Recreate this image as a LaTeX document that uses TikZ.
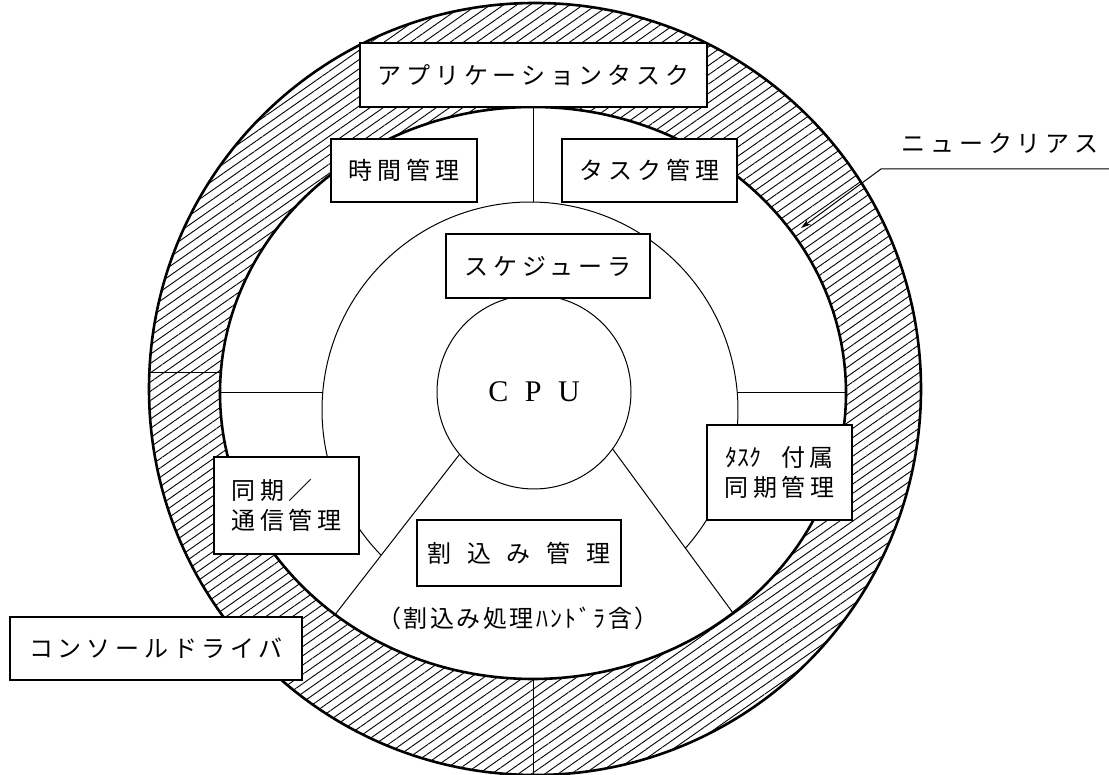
\documentclass[tikz,border=0pt]{standalone}
\usepackage{fontspec}
\setmainfont{Liberation Serif}
\newfontfamily\jp[LetterSpace=20]{Noto Sans CJK JP}
\newfontfamily\jpwide[LetterSpace=65]{Noto Sans CJK JP}
\newfontfamily\jpnarrow[LetterSpace=10]{Noto Sans CJK JP}
\newfontfamily\jpplain{Noto Sans CJK JP}
\usetikzlibrary{positioning,arrows.meta,patterns.meta}
\def\outerR{386}
\def\ringA{313}
\def\ringB{286}
\def\midR{208}
\def\borderW{1.3pt}
\tikzset
{
  Box/.style=
  {
    draw,
    line width=\borderW,
    fill=white,
    inner sep=0pt,
    align=center,
    font=\jp\fontsize{12pt}{15pt}\selectfont,
  },
  Hatch/.style={pattern={Lines[angle=35,distance=3.8pt,line width=0.45pt]}},
  Thin/.style={line width=0.5pt},
}

\begin{document}
\begin{tikzpicture}
[
  x=0.5pt, y=0.5pt, % one unit per pixel of the drawing
]
\useasboundingbox (0,0) rectangle (1109,775);
\coordinate (outer) at (535,386);
\coordinate (ring) at (533,382);
\coordinate (mid) at (530,365);

% nucleus ring
\fill [Hatch, even odd rule] (outer) circle [radius=\outerR] (ring) ellipse [x radius=\ringA, y radius=\ringB];
\draw [line width=1.3pt] (outer) circle [radius=\outerR];
\draw [line width=1.3pt] (ring) ellipse [x radius=\ringA, y radius=\ringB];

% middle circle, open in the bottom sector
\draw [Thin] (mid) ++(-41.7:\midR) arc [start angle=-41.7, end angle=224.2, radius=\midR];

\node (cpu)
  [
    circle, draw, Thin,
    minimum size=97pt,
    inner sep=0pt,
    font=\fontsize{15pt}{17pt}\selectfont,
  ]
  at (534,383) {C\hspace{0.55em}P\hspace{0.55em}U};

\coordinate (ringL) at (334,159);
\coordinate (ringR) at (733,162);
\coordinate (ringW) at (220,382);
\coordinate (midW) at (322.7,382);
\coordinate (midE) at (738,382);
\coordinate (ringE) at (846,382);
\coordinate (cutWa) at (149.3,402);
\coordinate (cutWb) at (220.8,402);
\coordinate (cutSa) at (533,96);
\coordinate (cutSb) at (533,0);
\draw [Thin] (cpu.220) -- (ringL);
\draw [Thin] (cpu.-36) -- (ringR);
\draw [Thin] (ringW) -- (midW);
\draw [Thin] (midE) -- (ringE);
\draw [Thin] (cutWa) -- (cutWb);
\draw [Thin] (cutSa) -- (cutSb);

\node (app) [Box, minimum width=173.5pt, minimum height=32pt] at (533.5,700) {アプリケーションタスク};
\coordinate (midN) at (533.5,573);
\draw [Thin] (app.south) -- (midN);
\node (time) [Box, minimum width=73pt, minimum height=31.5pt] at (404,604.5) {時間管理};
\node (task) [Box, minimum width=87.5pt, minimum height=31.5pt] at (649.5,604.5) {タスク管理};
\node (sched) [Box, minimum width=102pt, minimum height=32pt] at (548,509) {スケジューラ};
\node (sync) [Box, minimum width=72.5pt, minimum height=48.5pt, align=left] at (286.5,269.5) {同期／\\通信管理};
\node (attach) [Box, minimum width=72.5pt, minimum height=47.5pt] at (779.5,302.5) {{\jpplain ﾀｽｸ}\hspace{10pt}付属\\同期管理};
\node (intr) [Box, minimum width=102pt, minimum height=33pt, font=\jpwide\fontsize{12pt}{15pt}\selectfont] at (519,222) {割込み管理};
\node (handler) [font=\jpnarrow\fontsize{12pt}{15pt}\selectfont] at (518,157) {（割込み処理ﾊﾝﾄﾞﾗ含）};
\node (console) [Box, minimum width=146pt, minimum height=31.5pt] at (156,126.5) {コンソールドライバ};

\node (nuc) [font=\jp\fontsize{12pt}{15pt}\selectfont] at (1000,632) {ニュークリアス};
\coordinate (nucEnd) at (1109,606);
\coordinate (nucBend) at (881,606);
\coordinate (nucTip) at (801,547);
\draw [Thin, -{Stealth[length=5pt,width=3pt]}] (nucEnd) -- (nucBend) -- (nucTip);
\end{tikzpicture}
\end{document}
